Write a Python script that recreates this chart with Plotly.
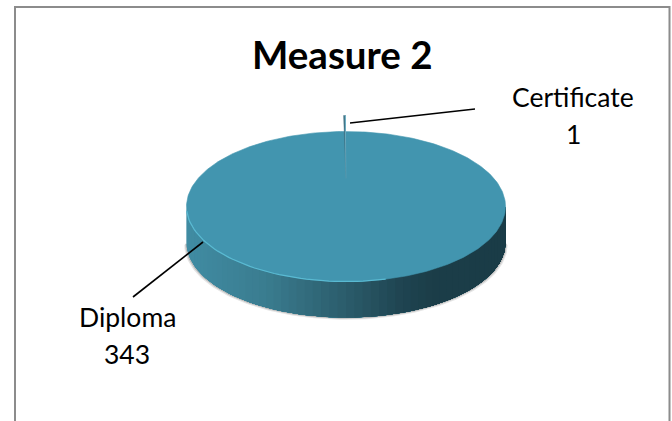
import numpy as np
import plotly.graph_objects as go

title = "Measure 2"
categories = ["Certificate", "Diploma"]
values = [1, 343]

W, H = 672, 421
CX, CY, RX, RY = 346.0, 206.5, 159.5, 75.0   # pie ellipse in px
DEPTH = 36.0 / RY                            # wall height, in y units
EXPLODE = 28.0 / RY                          # certificate slice pull-out
SLIVER_R = 63.0 / RY

TOP = "#4295AF"
RIM_LIGHT = "#5ABAD2"
FONT = "Lato"

fig = go.Figure()


def poly(x, y, color, line=0.6):
    fig.add_trace(go.Scatter(x=x, y=y, mode="lines", fill="toself", fillcolor=color,
                             line=dict(color=color, width=line), hoverinfo="skip", showlegend=False))


def wall_color(u):
    stops = [(-1.0, (64, 140, 163)), (-0.5, (58, 124, 143)), (0.0, (43, 92, 107)),
             (0.35, (31, 68, 81)), (0.55, (27, 61, 72)), (1.0, (26, 60, 71))]
    for (a, ca), (b, cb) in zip(stops, stops[1:]):
        if u <= b:
            t = (u - a) / (b - a)
            c = [round(p + (q - p) * t) for p, q in zip(ca, cb)]
            return "rgb(%d,%d,%d)" % tuple(c)
    return "rgb(26,60,71)"


total = sum(values)
sweep = [2 * np.pi * v / total for v in values]

# soft shadow: slightly larger silhouette of the wall's lower edge
t = np.linspace(0, np.pi, 120)
for grow, col in [(2.2, "#E6E6E6"), (1.2, "#BDBDBD")]:
    poly(np.cos(t) * (1 + grow / RX), np.sin(t) + DEPTH + grow / RY, col, 0)

# wall of the main slice: each strip runs from its angle to the far right end, so no seams
edges = np.linspace(np.pi, 0, 61)
for a, b in zip(edges[:-1], edges[1:]):
    t = np.linspace(a, 0, max(3, int(a * 30)))
    xs = np.concatenate([np.cos(t), np.cos(t[::-1])])
    ys = np.concatenate([np.sin(t), np.sin(t[::-1]) + DEPTH])
    poly(xs, ys, wall_color(float(np.cos((a + b) / 2))), 0)

# top face of Diploma
t = np.linspace(0, 2 * np.pi, 361)
poly(np.cos(t), np.sin(t), TOP)

# rim highlight round the lower left of the top face
rim = np.linspace(np.pi * 0.98, np.pi * 0.42, 50)
fig.add_trace(go.Scatter(x=np.cos(rim), y=np.sin(rim), mode="lines", line=dict(color=RIM_LIGHT, width=1.2),
                         hoverinfo="skip", showlegend=False))

# certificate sliver: pulled out towards the top of the pie
ang = sweep[0]
sx = np.array([0, -np.sin(ang) * SLIVER_R, 0])
sy = np.array([0, -np.cos(ang) * SLIVER_R, -SLIVER_R]) - EXPLODE
poly(sx, sy, "#3E6E80", 0.4)
lx = np.array([0, -np.sin(ang / 3) * SLIVER_R, 0])
poly(lx, sy, "#78BDD2", 0.4)

px = lambda v: v / W
py = lambda v: 1 - v / H

shapes = []
for x0, y0, x1, y1 in [(14.5, 7, 669.5, 7), (15, 6, 15, 421), (669.5, 6, 669.5, 421)]:
    shapes.append(dict(type="line", xref="paper", yref="paper", x0=px(x0), y0=py(y0), x1=px(x1), y1=py(y1),
                       line=dict(color="#8C8C8C", width=2)))
for x0, y0, x1, y1 in [(350, 123, 475, 109), (203, 242, 133, 297)]:
    shapes.append(dict(type="line", xref="paper", yref="paper", x0=px(x0), y0=py(y0), x1=px(x1), y1=py(y1),
                       line=dict(color="#000000", width=1.6)))

label_pos = {"Certificate": (573, 97, 134), "Diploma": (127, 317, 354)}
ann = []


def text(s, x, y, size, bold=False):
    ann.append(dict(text="<b>%s</b>" % s if bold else s, xref="paper", yref="paper", x=px(x), y=py(y),
                    xanchor="center", yanchor="middle", showarrow=False,
                    font=dict(family=FONT, size=size, color="#000000")))


text(title, 342, 54, 38.5, True)
for c, v in zip(categories, values):
    x, y1, y2 = label_pos[c]
    text(c, x, y1, 26.5)
    text(str(v), x, y2, 26.5)

fig.update_layout(
    width=W, height=H, margin=dict(l=0, r=0, t=0, b=0), paper_bgcolor="white", plot_bgcolor="white",
    showlegend=False, shapes=shapes, annotations=ann,
    xaxis=dict(visible=False, range=[-CX / RX, (W - CX) / RX], fixedrange=True),
    yaxis=dict(visible=False, range=[(H - CY) / RY, -CY / RY], fixedrange=True),
)
fig.write_html("out.html", config=dict(displayModeBar=False),
               post_script="document.body.style.margin='0';")
